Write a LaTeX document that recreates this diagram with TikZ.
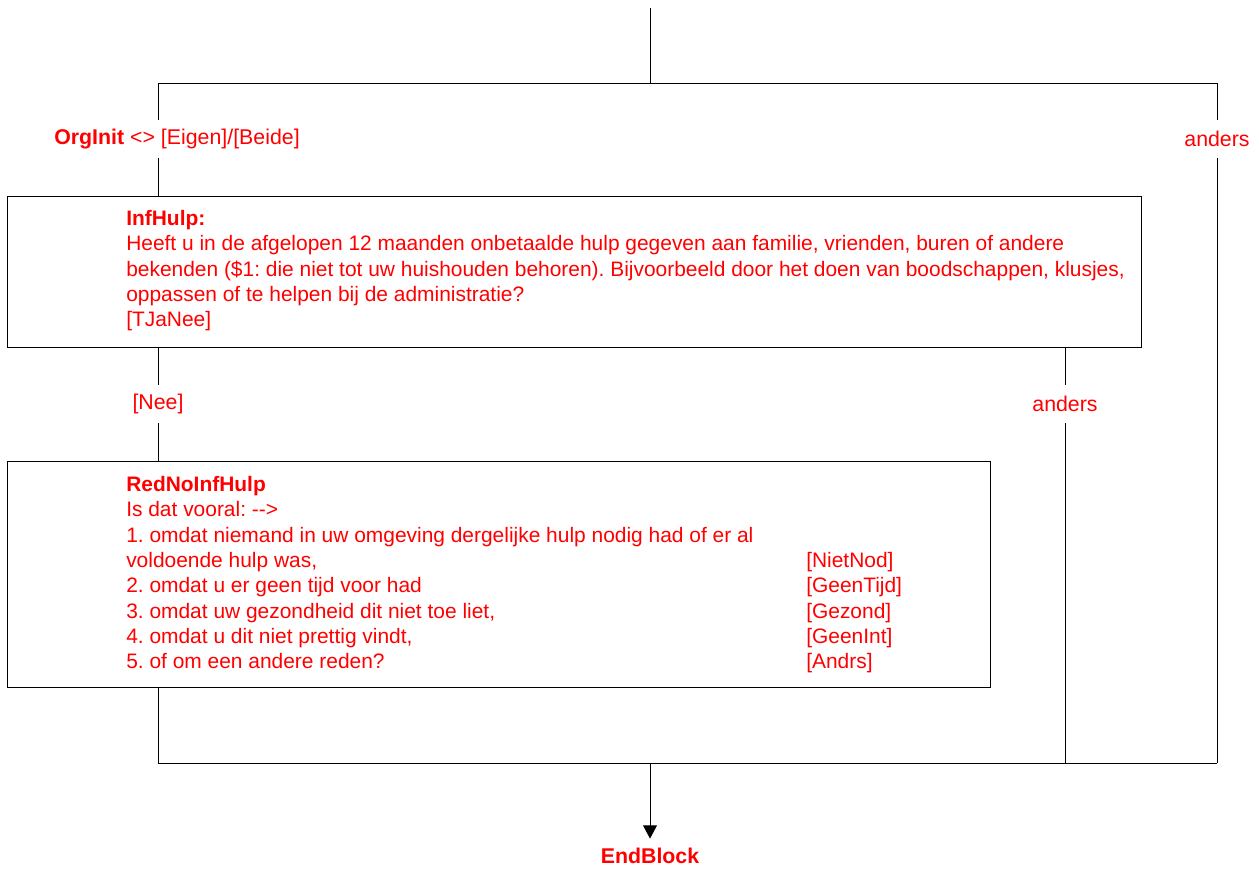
\documentclass[tikz,border=0pt]{standalone}
\usepackage{fontspec}
\setmainfont{Liberation Sans}
\usetikzlibrary{arrows.meta}
\frenchspacing
\definecolor{qred}{RGB}{255,0,0}
\tikzset{
  conn/.style={draw=black, line width=0.75pt},
  qbox/.style={draw=black, line width=0.75pt, anchor=north west, inner sep=0pt},
  lbl/.style={text=qred, inner sep=0pt, minimum height=28.5pt, font=\fontsize{16}{19}\selectfont},
  qtext/.style={text=qred, inner sep=0pt, anchor=base west, font=\fontsize{15.7}{19}\selectfont},
  arr/.style={conn, -{Triangle[width=10.5pt,length=10pt]}}
}
\begin{document}
\begin{tikzpicture}[x=0.75pt,y=-0.75pt]
\useasboundingbox (0,0) rectangle (1259,869);
% boxes
\node[qbox, minimum width=850.5pt, minimum height=113.25pt] (box1) at (7,196) {};
\node[qbox, minimum width=737.25pt, minimum height=169.5pt] (box2) at (7,461) {};
% box texts
\node[qtext] (t1) at (126,225.4) {\begin{tabular}[t]{@{}l@{}}
\textbf{InfHulp:}\\
Heeft u in de afgelopen 12 maanden onbetaalde hulp gegeven aan familie, vrienden, buren of andere\\
bekenden (\$1: die niet tot uw huishouden behoren). Bijvoorbeeld door het doen van boodschappen, klusjes,\\
oppassen of te helpen bij de administratie?\\
{[TJaNee]}
\end{tabular}};
\node[qtext] (t2) at (126,491.4) {\begin{tabular}[t]{@{}p{510pt}@{}l@{}}
\textbf{RedNoInfHulp} & \\
Is dat vooral: -{}-> & \\
1. omdat niemand in uw omgeving dergelijke hulp nodig had of er al & \\
voldoende hulp was, & [NietNod]\\
2. omdat u er geen tijd voor had & [GeenTijd]\\
3. omdat uw gezondheid dit niet toe liet, & [Gezond]\\
4. omdat u dit niet prettig vindt, & [GeenInt]\\
5. of om een andere reden? & [Andrs]
\end{tabular}};
% labels
\node[lbl, anchor=west] (cond1) at (54,139) {\textbf{OrgInit} <> [Eigen]/[Beide]};
\node[lbl] (anders1) at (1217,139) {anders};
\node[lbl] (nee) at (158,404) {[Nee]};
\node[lbl] (anders2) at (1065,404) {anders};
\node[text=qred, inner sep=0pt, inner ysep=7pt, font=\fontsize{16}{19}\selectfont\bfseries] (endblock) at (650,856) {EndBlock};
% coordinates
\coordinate (start) at (650,8);
\coordinate (split) at (650,83);
\coordinate (tl) at (158,83);
\coordinate (tr) at (1217,83);
\coordinate (bl) at (158,763);
\coordinate (br) at (1217,763);
% connectors
\draw[conn] (start) -- (split);
\draw[conn] (tl) -- (tr);
\draw[conn] (tl) -- (tl |- cond1.north);
\draw[conn] (tl |- cond1.south) -- (tl |- box1.north);
\draw[conn] (tr) -- (anders1.north);
\draw[conn] (anders1.south) -- (br);
\draw[conn] (box1.south -| nee) -- (nee.north);
\draw[conn] (nee.south) -- (box2.north -| nee);
\draw[conn] (box1.south -| anders2) -- (anders2.north);
\draw[conn] (anders2.south) -- (anders2 |- bl);
\draw[conn] (box2.south -| bl) -- (bl);
\draw[conn] (bl) -- (br);
\draw[arr] (bl -| start) -- (endblock.north);
\end{tikzpicture}
\end{document}
